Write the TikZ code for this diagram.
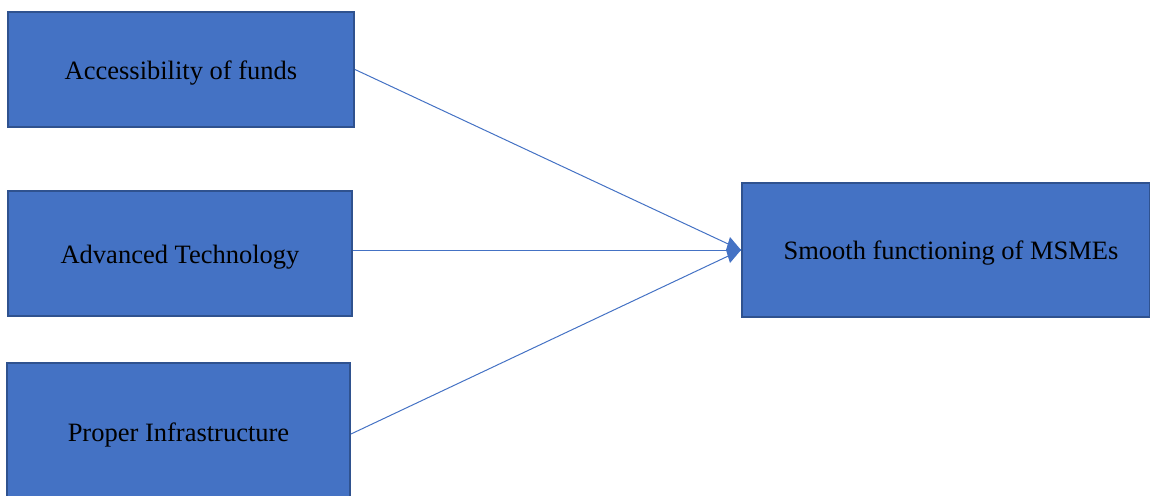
\documentclass[tikz,border=0pt]{standalone}
\usepackage{fontspec}
\setmainfont{Liberation Serif}
\usetikzlibrary{arrows.meta}
\definecolor{boxfill}{HTML}{4472C4}
\definecolor{boxline}{HTML}{2F528F}
\definecolor{linkblue}{HTML}{4472C4}
\tikzset{
  factor/.style={draw=boxline, line width=2pt, fill=boxfill, inner sep=0pt},
  caption/.style={font=\fontsize{26.5}{30}\selectfont, text=black, inner sep=0pt},
  link/.style={draw=linkblue, line width=1pt},
}
\begin{document}
\begin{tikzpicture}[x=1pt, y=-1pt]
\useasboundingbox (0,0) rectangle (1150,495);
\clip (0,0) rectangle (1150,495);
% input factors
\node[factor, minimum width=346pt, minimum height=115pt] (funds) at (181,69.5) {};
\node[caption] (fundslabel) at (181,73) {Accessibility of funds};
\node[factor, minimum width=344pt, minimum height=125pt] (tech) at (180,253.5) {};
\node[caption] (techlabel) at (180,257) {Advanced Technology};
\node[factor, minimum width=343pt, minimum height=142pt] (infra) at (178.5,434) {};
\node[caption] (infralabel) at (178.5,435) {Proper Infrastructure};
% outcome
\node[factor, minimum width=408pt, minimum height=134pt] (msme) at (946,250) {};
\node[caption] (msmelabel) at (951,253) {Smooth functioning of MSMEs};
% connectors
\draw[link] (funds.east) -- (msme.west);
\draw[link] (infra.east) -- (msme.west);
\draw[link] (tech.east |- msme.west) -- (msme.west);
% shared arrowhead where the three connectors meet
\coordinate (tip) at (msme.west);
\fill[linkblue] (tip) -- ++(-11,-13) -- ++(-4,13) -- ++(4,13) -- cycle;
\end{tikzpicture}
\end{document}
